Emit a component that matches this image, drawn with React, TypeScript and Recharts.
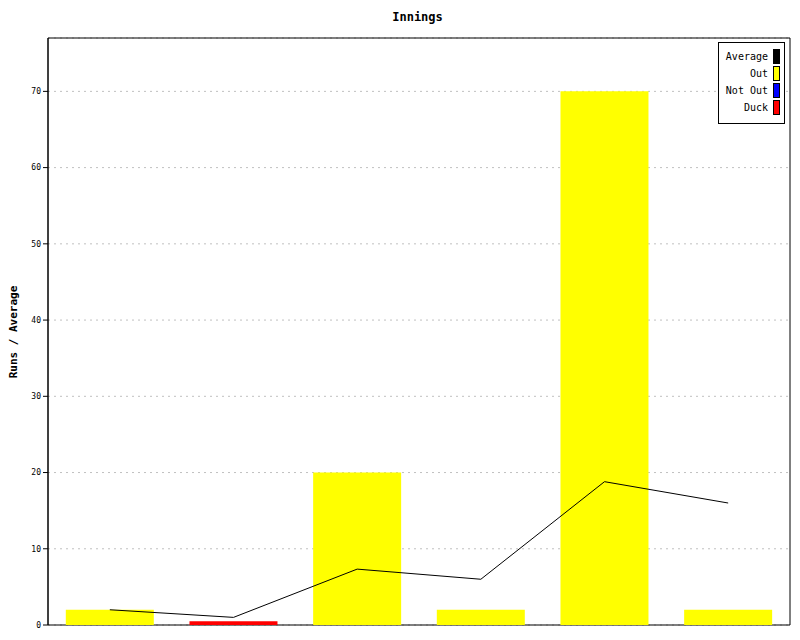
import React from 'react';
import { ComposedChart, Bar, Line, XAxis, YAxis, CartesianGrid, ReferenceArea } from 'recharts';

const innings = ['1', '2', '3', '4', '5', '6'];
const outRuns = [2, null, 20, 2, 70, 2];
const notOutRuns = [null, null, null, null, null, null];
const duckRuns = [null, 0.5, null, null, null, null];
const average = [2, 1, 7.33, 6, 18.8, 16];
const yTicks = [0, 10, 20, 30, 40, 50, 60, 70];

const legendItems = [
  { name: 'Average', color: '#000000' },
  { name: 'Out', color: '#ffff00' },
  { name: 'Not Out', color: '#0000ff' },
  { name: 'Duck', color: '#ff0000' },
];

const data = innings.map((inn, i) => ({
  inn,
  out: outRuns[i],
  notOut: notOutRuns[i],
  duck: duckRuns[i],
  avg: average[i],
}));

const mono = '"DejaVu Sans Mono", monospace';

export default function App() {
  return (
    <div style={{ position: 'absolute', left: 0, top: 0, width: 800, height: 640, background: '#fff' }}>
      <ComposedChart
        width={800}
        height={640}
        data={data}
        margin={{ top: 38, right: 10, bottom: 15, left: 0 }}
        barCategoryGap="14.4%"
      >
        <CartesianGrid vertical={false} stroke="#c0c0c0" strokeDasharray="2 4" />
        <XAxis dataKey="inn" hide />
        <YAxis
          width={48}
          domain={[0, 77]}
          ticks={yTicks}
          interval={0}
          tickSize={5}
          tickLine={{ stroke: '#000' }}
          axisLine={{ stroke: '#000' }}
          tick={{ fontSize: 8, fill: '#000', fontFamily: mono }}
        />
        <ReferenceArea y1={0} y2={77} fill="none" fillOpacity={0} stroke="#000" strokeWidth={1} ifOverflow="visible" />
        <Bar dataKey="out" stackId="s" fill="#ffff00" isAnimationActive={false} />
        <Bar dataKey="notOut" stackId="s" fill="#0000ff" isAnimationActive={false} />
        <Bar dataKey="duck" stackId="s" fill="#ff0000" isAnimationActive={false} />
        <Line dataKey="avg" stroke="#000" strokeWidth={1} dot={false} type="linear" isAnimationActive={false} />
      </ComposedChart>
      <div style={{ position: 'absolute', left: 0, width: 835, top: 10, textAlign: 'center', fontFamily: mono, fontWeight: 'bold', fontSize: 12 }}>
        Innings
      </div>
      <div
        style={{
          position: 'absolute',
          left: 13,
          top: 332,
          transform: 'translate(-50%, -50%) rotate(-90deg)',
          whiteSpace: 'nowrap',
          fontFamily: mono,
          fontWeight: 'bold',
          fontSize: 11,
        }}
      >
        Runs / Average
      </div>
      <div
        style={{
          position: 'absolute',
          left: 718,
          top: 42,
          width: 65,
          height: 80,
          border: '1px solid #000',
          background: '#fff',
          fontFamily: mono,
          fontSize: 10,
        }}
      >
        {legendItems.map((it, i) => (
          <div
            key={it.name}
            style={{ position: 'absolute', right: 4, top: 6 + i * 17, display: 'flex', alignItems: 'center', height: 14 }}
          >
            <span style={{ marginRight: 5 }}>{it.name}</span>
            <span style={{ display: 'inline-block', width: 5, height: 13, background: it.color, border: '1px solid #000' }} />
          </div>
        ))}
      </div>
    </div>
  );
}
